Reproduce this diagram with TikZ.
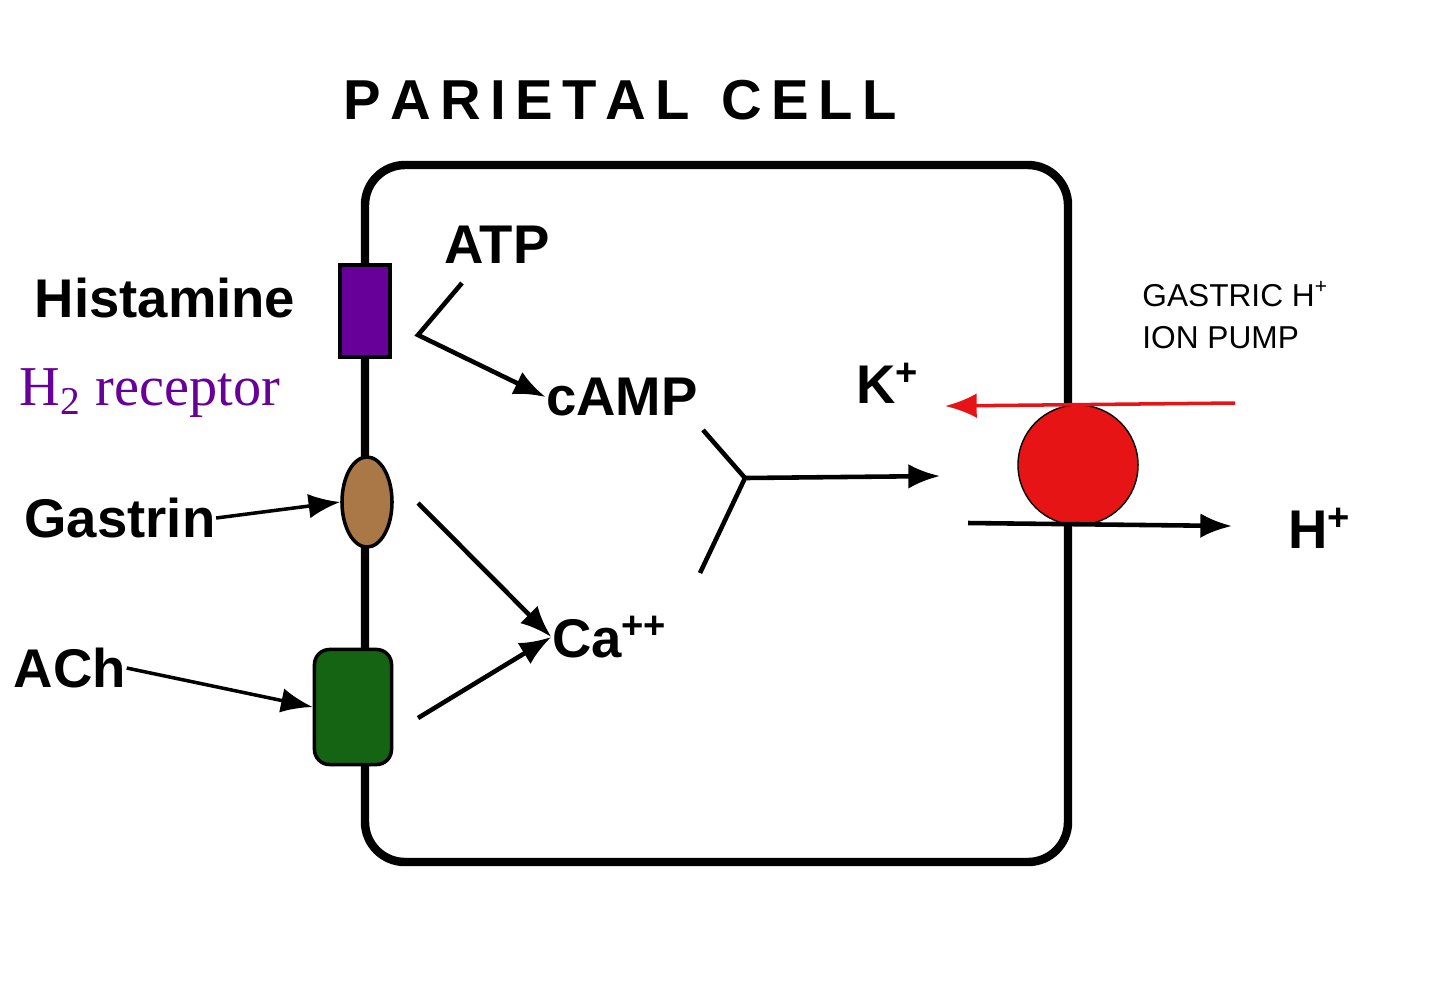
\documentclass[tikz,border=0pt]{standalone}
\usepackage{fontspec}
\setmainfont{Liberation Sans}
\newfontfamily\serifont{Liberation Serif}
\usetikzlibrary{arrows.meta,positioning,shapes.geometric}
\definecolor{histpurple}{RGB}{102,0,153}
\definecolor{gasbrown}{RGB}{170,120,70}
\definecolor{achgreen}{RGB}{20,100,20}
\definecolor{pumpred}{RGB}{230,20,20}
\tikzset{
  lbl/.style={font=\bfseries\fontsize{15.5}{17}\selectfont, inner sep=0pt},
  rcp/.style={draw=black, line width=1pt, inner sep=0pt},
  arr/.style={line width=1.3pt, -{Latex[length=9pt,width=7pt]}},
}
\begin{document}
\begin{tikzpicture}[x=0.01cm,y=-0.01cm]
  \useasboundingbox (0,0) rectangle (1440,987);

  % cell
  \node[font=\bfseries\fontsize{16}{18}\selectfont] (title) at (620,100) {P\,A\,R\,I\,E\,T\,A\,L\ \ C\,E\,L\,L};
  \draw[line width=2.4pt, rounded corners=0.4cm] (365,165) rectangle (1068,862);

  % receptors
  \node[rcp, fill=histpurple, minimum width=0.5cm, minimum height=0.92cm] (h2) at (365,311) {};
  \node[rcp, ellipse, fill=gasbrown, minimum width=0.5cm, minimum height=0.9cm] (gr) at (367,502) {};
  \node[rcp, rounded corners=0.15cm, fill=achgreen, minimum width=0.77cm, minimum height=1.15cm] (ar) at (353,707) {};

  % labels
  \node[lbl] (hist) at (165,298) {Histamine};
  \node[text=histpurple, font=\serifont\fontsize{16}{18}\selectfont] (h2lbl) at (150,393) {H\textsubscript{2} receptor};
  \node[lbl] (gast) at (120,518) {Gastrin};
  \node[lbl] (ach) at (70,668) {ACh};
  \node[lbl] (atp) at (497,245) {ATP};
  \node[lbl] (camp) at (622,397) {cAMP};
  \node[lbl] (ca) at (610,637) {Ca\textsuperscript{++}};
  \node[lbl] (k) at (888,383) {K\textsuperscript{+}};
  \node[lbl] (h) at (1320,528) {H\textsuperscript{+}};
  \node[align=left, anchor=west, font=\fontsize{9}{12}\selectfont] (pumplbl) at (1130,315) {GASTRIC H\textsuperscript{+}\\ION PUMP};

  % pump
  \node[circle, draw=black, fill=pumpred, minimum size=1.2cm, inner sep=0pt] (pump) at (1078,465) {};

  % connectors
  \coordinate (bend) at (418,335);
  \coordinate (yj) at (745,478);
  \coordinate (kin) at (1235,403);
  \coordinate (hin) at (968,523);
  \draw[arr] (462,283) -- (bend) -- (camp.west);
  \draw[arr, line width=1pt] (gast.east) -- (gr.west);
  \draw[arr, line width=1pt] (ach.east) -- (ar.west);
  \draw[arr] (418,503) -- (ca.west);
  \draw[arr] (418,718) -- (ca.west);
  \draw[line width=1.3pt] (703,430) -- (yj) -- (700,573);
  \draw[arr] (yj) -- (940,476);
  \draw[pumpred, line width=1pt, -{Latex[length=9pt,width=7pt]}] (kin) -- (945,406);
  \draw[arr] (hin) -- (1232,526);
\end{tikzpicture}
\end{document}
